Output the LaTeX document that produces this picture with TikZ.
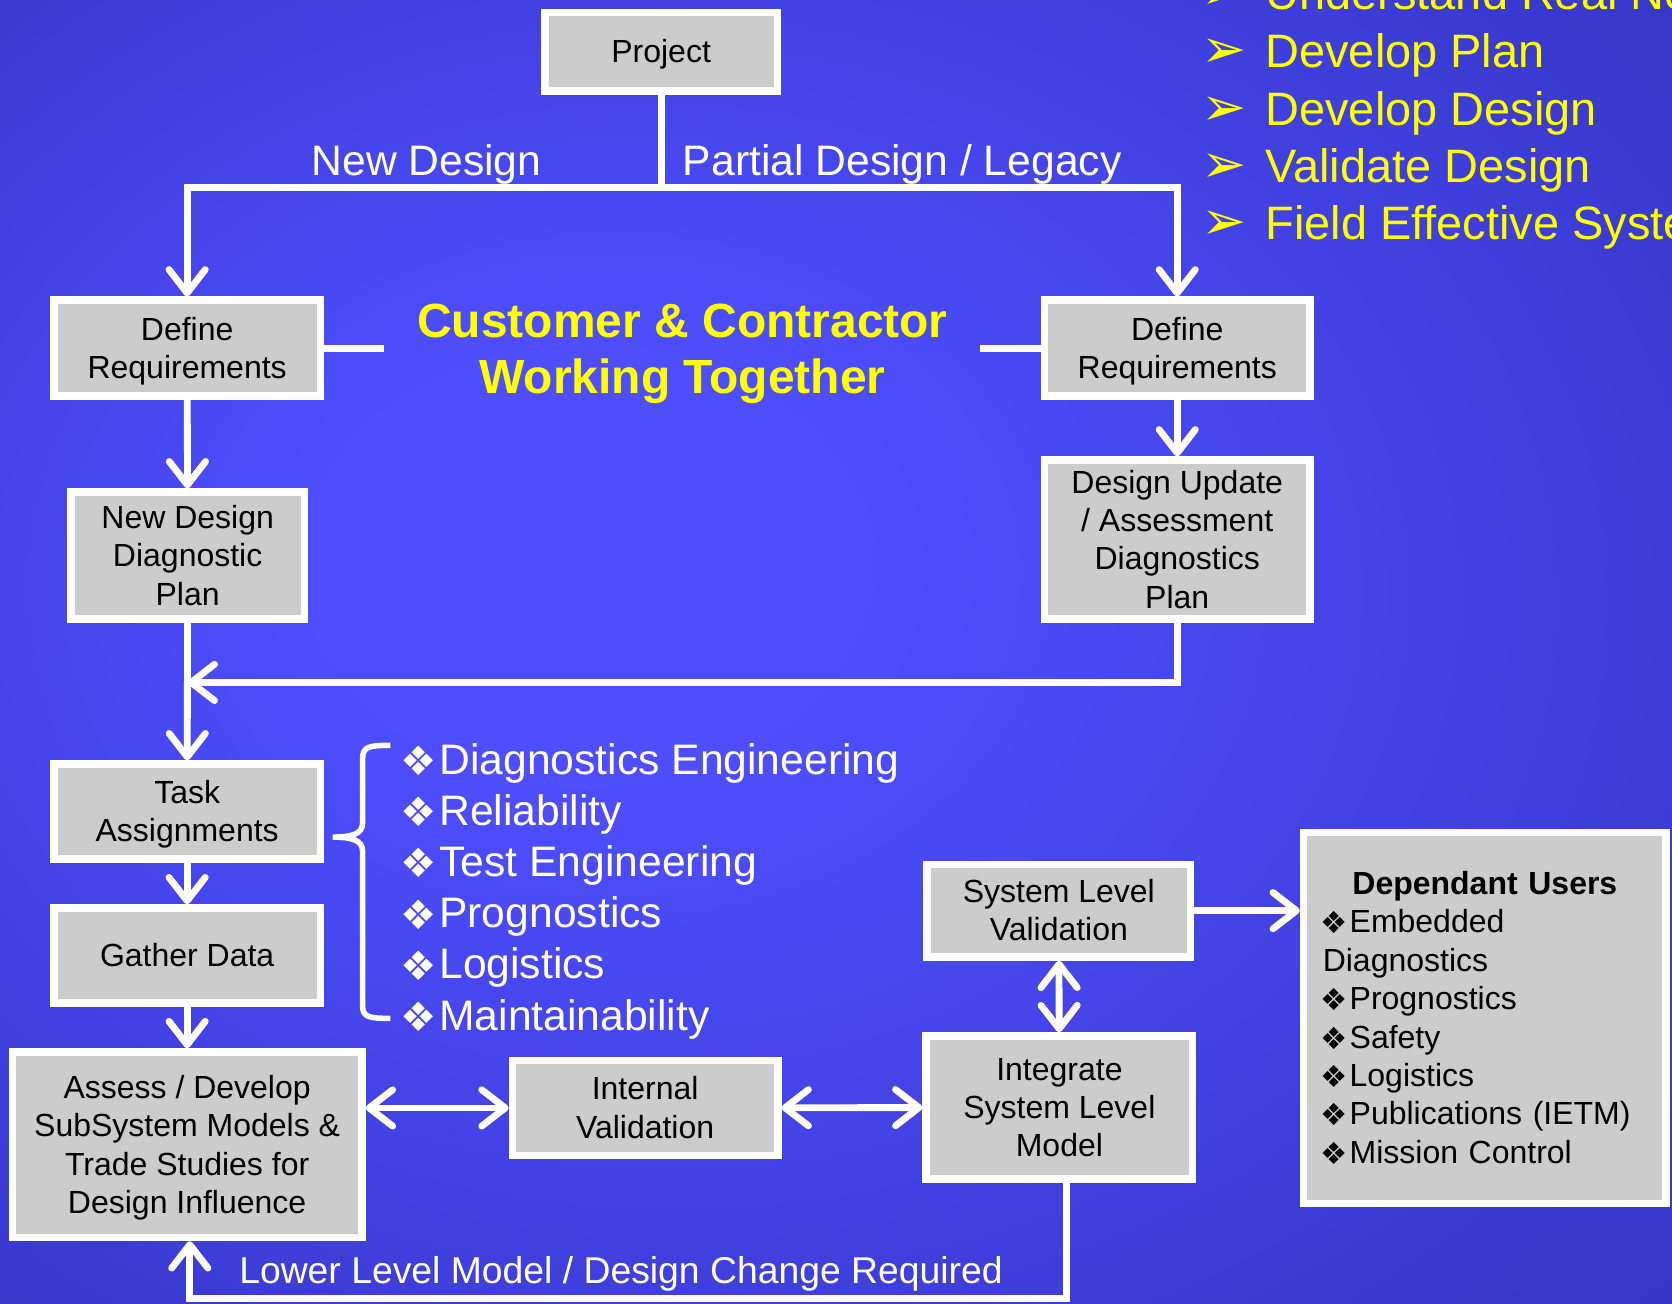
\documentclass[tikz,border=0pt]{standalone}
\usepackage{fontspec}
\setmainfont{Liberation Sans}
\newfontfamily\dingfont{DejaVu Sans}
\usetikzlibrary{arrows.meta}

\definecolor{bgin}{RGB}{78,78,255}
\definecolor{bgout}{RGB}{44,44,176}
\definecolor{boxgray}{RGB}{204,204,204}
\definecolor{goalyellow}{RGB}{255,255,0}
\pgfdeclareradialshading{bgglow}{\pgfpoint{-9bp}{4bp}}{color(0bp)=(bgin); color(8bp)=(bgin); color(50bp)=(bgout)}

\newcommand{\bul}{\makebox[0.84em][l]{\hspace*{-0.08em}\dingfont\raisebox{-0.03em}{\scalebox{0.95}{❖}}}}
\newcommand{\gbul}{\makebox[1.26em][l]{\hspace*{-0.1em}\dingfont\scalebox{1.15}{➢}}}
\newcommand{\tp}{\rule{0pt}{0.905em}}

\begin{document}
\begin{tikzpicture}[x=0.5pt,y=-0.5pt,
        stage/.style={draw=white,line width=3.5pt,fill=boxgray,text=black,align=center,inner sep=0pt,font=\fontsize{15}{18}\selectfont,
            execute at begin node={\tp},execute at end node={\rule[-0.212em]{0pt}{0pt}}},
        link/.style={draw=white,line width=3.2pt},
        flow/.style={link,-{Straight Barb[length=11pt,width=17pt,round]}},
        twoway/.style={link,{Straight Barb[length=11pt,width=17pt,round]}-{Straight Barb[length=11pt,width=17pt,round]}},
        pathtext/.style={text=white,font=\fontsize{20}{24}\selectfont,inner sep=0pt},
        skill/.style={pathtext,anchor=base west},
        goal/.style={text=goalyellow,font=\fontsize{22}{27}\selectfont,inner sep=0pt,anchor=base west},
        motto/.style={text=goalyellow,font=\bfseries\fontsize{22.5}{26.5}\selectfont,align=center,inner sep=0pt}]
        \useasboundingbox (0,0) rectangle (1568,1222);
        \clip (0,0) rectangle (1568,1222);
        \shade[shading=bgglow] (0,0) rectangle (1568,1222);

        % boxes
        \node[stage,minimum width=109pt,minimum height=37pt] (proj) at (620,48.5) {Project};
        \node[stage,minimum width=125pt,minimum height=45pt] (defl) at (175.5,326.5) {\tp Define\\Requirements};
        \node[stage,minimum width=124.5pt,minimum height=45pt] (defr) at (1104,326.5) {\tp Define\\Requirements};
        \node[stage,minimum width=109.5pt,minimum height=59.5pt] (ndd) at (176,521) {\tp New Design\\Diagnostic\\Plan};
        \node[stage,minimum width=124.5pt,minimum height=74.5pt] (dua) at (1104,506) {\tp Design Update\\/ Assessment\\Diagnostics\\Plan};
        \node[stage,minimum width=125pt,minimum height=44.5pt] (task) at (175.5,761) {\tp Task\\Assignments};
        \node[stage,minimum width=125pt,minimum height=44.5pt] (gather) at (175.5,896) {Gather Data};
        \node[stage,minimum width=164pt,minimum height=87pt] (assess) at (175.5,1073.5) {\tp Assess / Develop\\SubSystem Models \&\\Trade Studies for\\Design Influence};
        \node[stage,minimum width=124.5pt,minimum height=44.5pt] (intval) at (605,1039) {\tp Internal\\Validation};
        \node[stage,minimum width=125pt,minimum height=67pt] (integ) at (993.5,1038.5) {\tp Integrate\\System Level\\Model};
        \node[stage,minimum width=123.5pt,minimum height=43.5pt] (sysval) at (993,854) {\tp System Level\\Validation};
        \node[stage,minimum width=170pt,minimum height=174pt,text width=152pt,align=left] (users) at (1392.5,954.5) {\makebox[\linewidth]{\bfseries Dependant Users}\\
            \bul Embedded\\Diagnostics\\\bul Prognostics\\\bul Safety\\\bul Logistics\\\bul Publications (IETM)\\\bul Mission Control};

        % texts
        \node[motto] (cust) at (640,332) {Customer \& Contractor\\Working Together};
        \node[pathtext,anchor=base] (newd) at (400,165) {New Design};
        \node[pathtext,anchor=base west] (partial) at (640,165) {Partial Design / Legacy};
        \node[pathtext,anchor=base west,font=\fontsize{17.5}{21}\selectfont] (lower) at (224,1203.5) {Lower Level Model / Design Change Required};

        \node[goal] (g1) at (1131,9) {\gbul Understand Real Needs};
        \node[goal] (g2) at (1131,63.5) {\gbul Develop Plan};
        \node[goal] (g3) at (1131,118) {\gbul Develop Design};
        \node[goal] (g4) at (1131,171.5) {\gbul Validate Design};
        \node[goal] (g5) at (1131,225) {\gbul Field Effective System};

        \node[skill] (s1) at (378,726) {\bul Diagnostics Engineering};
        \node[skill] (s2) at (378,774) {\bul Reliability};
        \node[skill] (s3) at (378,822) {\bul Test Engineering};
        \node[skill] (s4) at (378,870) {\bul Prognostics};
        \node[skill] (s5) at (378,918) {\bul Logistics};
        \node[skill] (s6) at (378,966) {\bul Maintainability};

        % helper points
        \coordinate (split) at (620,176);
        \coordinate (stubl) at (360,326.5);
        \coordinate (stubr) at (919,326.5);
        \coordinate (merge) at (176,640);
        \coordinate (loopr) at (1000,1218);
        \coordinate (loopl) at (178,1218);

        % connectors
        \draw[link] (proj) -- (split);
        \draw[flow] (split) -| (defl.north);
        \draw[flow] (split) -| (defr.north);
        \draw[link] (defl.east) -- (stubl);
        \draw[link] (defr.west) -- (stubr);
        \draw[flow] (defl) -- (ndd);
        \draw[flow] (defr) -- (dua);
        \draw[flow] (ndd) -- (task);
        \draw[flow] (dua.south) |- (merge);
        \draw[flow] (task) -- (gather);
        \draw[flow] (gather) -- (assess);
        \draw[twoway] (assess.east |- intval) -- (intval);
        \draw[twoway] (intval) -- (integ);
        \draw[twoway] (sysval) -- (integ);
        \draw[flow] (sysval.east) -- (sysval.east -| users.west);
        \draw[flow] (integ.south -| loopr) -- (loopr) -- (loopl) -- (assess.south -| loopl);

        % brace
        \draw[link,line width=2.6pt] (366,699) .. controls (346,699) and (340,700) .. (340,712) -- (340,772)
            .. controls (340,782) and (330,785) .. (312,785) .. controls (330,785) and (340,788) .. (340,798)
            -- (340,943) .. controls (340,954) and (346,955) .. (366,955);
\end{tikzpicture}
\end{document}
